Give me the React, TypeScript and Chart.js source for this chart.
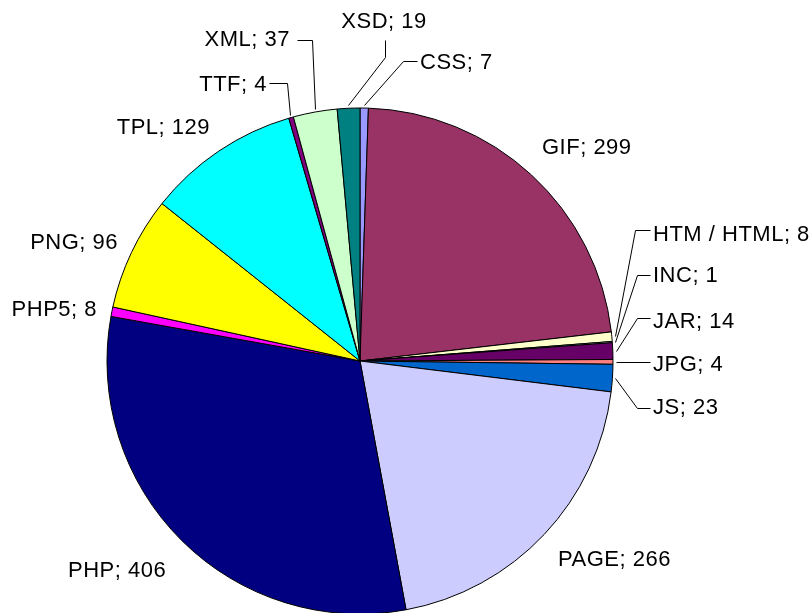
import React, { useEffect, useRef } from "react";
import { Chart, registerables } from "chart.js";

Chart.register(...registerables);

const categories = ["CSS", "GIF", "HTM / HTML", "INC", "JAR", "JPG", "JS", "PAGE", "PHP", "PHP5", "PNG", "TPL", "TTF", "XML", "XSD"];
const values = [7, 299, 8, 1, 14, 4, 23, 266, 406, 8, 96, 129, 4, 37, 19];
const colors = ["#9999FF", "#993366", "#FFFFCC", "#CCFFFF", "#660066", "#FF8080", "#0066CC", "#CCCCFF", "#000080", "#FF00FF", "#FFFF00", "#00FFFF", "#800080", "#CCFFCC", "#008080"];

type LabelLayout = { dx: number; dy: number; align: CanvasTextAlign; leader?: [number, number][] };

// label text anchors and leader elbows, relative to the pie centre
const LABEL_LAYOUT: LabelLayout[] = [
  { dx: 60, dy: -298, align: "left", leader: [[43, -300], [57, -300]] },
  { dx: 182, dy: -213, align: "left" },
  { dx: 293, dy: -126, align: "left", leader: [[275, -131], [290, -131]] },
  { dx: 293, dy: -85, align: "left", leader: [[277, -86], [290, -86]] },
  { dx: 293, dy: -39, align: "left", leader: [[277, -43], [290, -43]] },
  { dx: 293, dy: 4, align: "left", leader: [[290, 1]] },
  { dx: 293, dy: 47, align: "left", leader: [[277, 47], [290, 47]] },
  { dx: 198, dy: 199, align: "left" },
  { dx: -292, dy: 210, align: "left" },
  { dx: -263, dy: -51, align: "right" },
  { dx: -242, dy: -118, align: "right" },
  { dx: -150, dy: -233, align: "right" },
  { dx: -93, dy: -276, align: "right", leader: [[-73, -278], [-91, -278]] },
  { dx: -70, dy: -321, align: "right", leader: [[-48, -321], [-63, -321]] },
  { dx: 24, dy: -339, align: "center", leader: [[25, -304], [25, -321]] },
];

const labelPlugin = {
  id: "pieLabels",
  afterDatasetsDraw(chart: any) {
    const meta = chart.getDatasetMeta(0);
    const ctx: CanvasRenderingContext2D = chart.ctx;
    ctx.save();
    ctx.font = '22px "Liberation Sans", Arial, sans-serif';
    try { (ctx as any).letterSpacing = "0.5px"; } catch (e) {}
    ctx.fillStyle = "#000";
    ctx.strokeStyle = "#000";
    ctx.lineWidth = 1;
    ctx.textBaseline = "middle";
    meta.data.forEach((arc: any, i: number) => {
      const { x, y, startAngle, endAngle, outerRadius } = arc.getProps(["x", "y", "startAngle", "endAngle", "outerRadius"], true);
      const mid = (startAngle + endAngle) / 2;
      const L = LABEL_LAYOUT[i];
      ctx.textAlign = L.align;
      ctx.fillText(`${categories[i]}; ${values[i]}`, x + L.dx, y + L.dy);
      if (L.leader) {
        const ax = x + Math.cos(mid) * (outerRadius + 3);
        const ay = y + Math.sin(mid) * (outerRadius + 3);
        ctx.beginPath();
        ctx.moveTo(Math.round(ax) + 0.5, Math.round(ay) + 0.5);
        L.leader.forEach(([px, py]) => ctx.lineTo(Math.round(x + px) + 0.5, Math.round(y + py) + 0.5));
        ctx.stroke();
      }
    });
    ctx.restore();
  },
};

export default function App() {
  const ref = useRef<HTMLCanvasElement | null>(null);
  useEffect(() => {
    if (!ref.current) return;
    const chart = new Chart(ref.current, {
      type: "pie",
      data: {
        labels: categories,
        datasets: [
          {
            data: values,
            backgroundColor: colors,
            borderColor: "#000",
            borderWidth: 1,
            hoverBorderWidth: 1,
            radius: 253,
          } as any,
        ],
      },
      options: {
        responsive: false,
        animation: false,
        events: [],
        layout: { padding: { left: 0, right: 92, top: 109, bottom: 0 } },
        plugins: { legend: { display: false }, tooltip: { enabled: false }, title: { display: false } },
      },
      plugins: [labelPlugin],
    });
    return () => chart.destroy();
  }, []);
  return (
    <div style={{ position: "fixed", left: 0, top: 0, width: 812, height: 613, background: "#fff" }}>
      <canvas ref={ref} width={812} height={613} style={{ display: "block", width: 812, height: 613 }} />
    </div>
  );
}
